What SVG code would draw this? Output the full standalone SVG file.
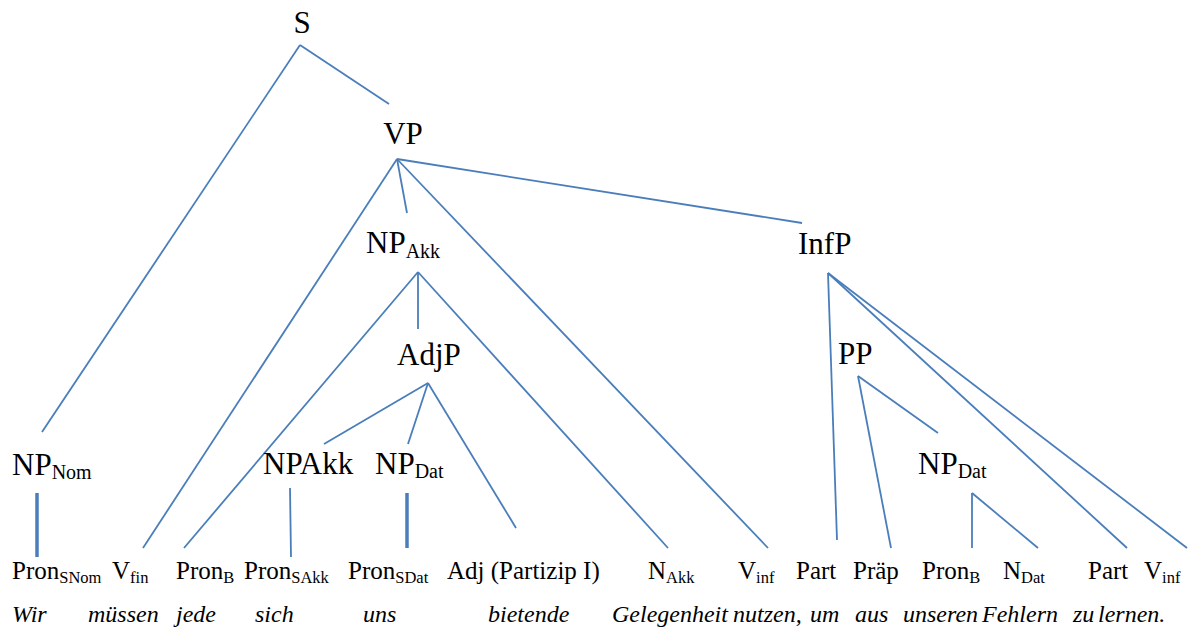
<svg xmlns="http://www.w3.org/2000/svg" width="1197" height="628" viewBox="0 0 1197 628">
  <style>
    text { font-family: "Liberation Serif", "Times New Roman", serif; fill: #000; }
    .lbl { font-size: 31px; }
    .lbl .sub { font-size: 20px; }
    .leaf { font-size: 25px; }
    .leaf .sub { font-size: 16.5px; }
    .word { font-size: 24px; font-style: italic; }
    .edge { stroke: #4A7EBB; stroke-width: 1.8; fill: none; }
    .edge.thick { stroke-width: 3.5; }
  </style>
  <rect width="1197" height="628" fill="#fff"/>

  <g id="connectors">
    <line class="edge" x1="300" y1="45" x2="42" y2="432"/>
    <line class="edge" x1="300" y1="45" x2="389" y2="104"/>
    <line class="edge" x1="397" y1="159" x2="143" y2="548"/>
    <line class="edge" x1="397" y1="159" x2="407" y2="213"/>
    <line class="edge" x1="397" y1="159" x2="768" y2="548"/>
    <line class="edge" x1="397" y1="159" x2="802" y2="223"/>
    <line class="edge" x1="418" y1="272" x2="184" y2="548"/>
    <line class="edge" x1="418" y1="272" x2="418" y2="329"/>
    <line class="edge" x1="418" y1="272" x2="668" y2="548"/>
    <line class="edge" x1="428" y1="383" x2="324" y2="444"/>
    <line class="edge" x1="428" y1="383" x2="408" y2="444"/>
    <line class="edge" x1="428" y1="383" x2="516" y2="528"/>
    <line class="edge thick" x1="37" y1="493" x2="37" y2="557"/>
    <line class="edge" x1="290" y1="488" x2="291" y2="557"/>
    <line class="edge thick" x1="407" y1="493" x2="407" y2="548"/>
    <line class="edge" x1="828" y1="273" x2="837" y2="540"/>
    <line class="edge" x1="828" y1="273" x2="1127" y2="548"/>
    <line class="edge" x1="828" y1="273" x2="1187" y2="548"/>
    <line class="edge" x1="858" y1="376" x2="938" y2="433"/>
    <line class="edge" x1="858" y1="376" x2="891" y2="548"/>
    <line class="edge" x1="972" y1="493" x2="972" y2="548"/>
    <line class="edge" x1="972" y1="493" x2="1038" y2="548"/>
  </g>

  <!-- phrase nodes -->
  <g id="node-S"><text class="lbl" x="302" y="33" text-anchor="middle">S</text></g>
  <g id="node-VP"><text class="lbl" x="403" y="144" text-anchor="middle">VP</text></g>
  <g id="node-NPAkk-top"><text class="lbl" x="366" y="253">NP<tspan class="sub" dy="5">Akk</tspan></text></g>
  <g id="node-InfP"><text class="lbl" x="798" y="254">InfP</text></g>
  <g id="node-AdjP"><text class="lbl" x="397" y="365">AdjP</text></g>
  <g id="node-PP"><text class="lbl" x="838" y="364">PP</text></g>
  <g id="node-NPNom"><text class="lbl" x="12" y="475">NP<tspan class="sub" dy="4">Nom</tspan></text></g>
  <g id="node-NPAkk"><text class="lbl" x="263" y="474">NPAkk</text></g>
  <g id="node-NPDat-left"><text class="lbl" x="375" y="474">NP<tspan class="sub" dy="4">Dat</tspan></text></g>
  <g id="node-NPDat-right"><text class="lbl" x="918" y="474">NP<tspan class="sub" dy="4">Dat</tspan></text></g>

  <!-- word class leaves -->
  <g id="leaf-PronSNom"><text class="leaf" x="12" y="579">Pron<tspan class="sub" dy="4">SNom</tspan></text></g>
  <g id="leaf-Vfin"><text class="leaf" x="112" y="579">V<tspan class="sub" dy="4">fin</tspan></text></g>
  <g id="leaf-PronB-1"><text class="leaf" x="176" y="579">Pron<tspan class="sub" dy="4">B</tspan></text></g>
  <g id="leaf-PronSAkk"><text class="leaf" x="244" y="579">Pron<tspan class="sub" dy="4">SAkk</tspan></text></g>
  <g id="leaf-PronSDat"><text class="leaf" x="348" y="579">Pron<tspan class="sub" dy="4">SDat</tspan></text></g>
  <g id="leaf-Adj"><text class="leaf" x="447" y="579">Adj (Partizip I)</text></g>
  <g id="leaf-NAkk"><text class="leaf" x="648" y="579">N<tspan class="sub" dy="4">Akk</tspan></text></g>
  <g id="leaf-Vinf-1"><text class="leaf" x="738" y="579">V<tspan class="sub" dy="4">inf</tspan></text></g>
  <g id="leaf-Part-1"><text class="leaf" x="796" y="579">Part</text></g>
  <g id="leaf-Praep"><text class="leaf" x="853" y="579">Präp</text></g>
  <g id="leaf-PronB-2"><text class="leaf" x="922" y="579">Pron<tspan class="sub" dy="4">B</tspan></text></g>
  <g id="leaf-NDat"><text class="leaf" x="1003" y="579">N<tspan class="sub" dy="4">Dat</tspan></text></g>
  <g id="leaf-Part-2"><text class="leaf" x="1088" y="579">Part</text></g>
  <g id="leaf-Vinf-2"><text class="leaf" x="1144" y="579">V<tspan class="sub" dy="4">inf</tspan></text></g>

  <!-- sentence -->
  <g id="sentence">
    <text class="word" x="12" y="622">Wir</text>
    <text class="word" x="88" y="622">müssen</text>
    <text class="word" x="176" y="622">jede</text>
    <text class="word" x="255" y="622">sich</text>
    <text class="word" x="363" y="622">uns</text>
    <text class="word" x="488" y="622">bietende</text>
    <text class="word" x="612" y="622">Gelegenheit</text>
    <text class="word" x="733" y="622">nutzen,</text>
    <text class="word" x="810" y="622">um</text>
    <text class="word" x="855" y="622">aus</text>
    <text class="word" x="903" y="622">unseren</text>
    <text class="word" x="982" y="622">Fehlern</text>
    <text class="word" x="1073" y="622">zu</text>
    <text class="word" x="1098" y="622">lernen.</text>
  </g>
</svg>
